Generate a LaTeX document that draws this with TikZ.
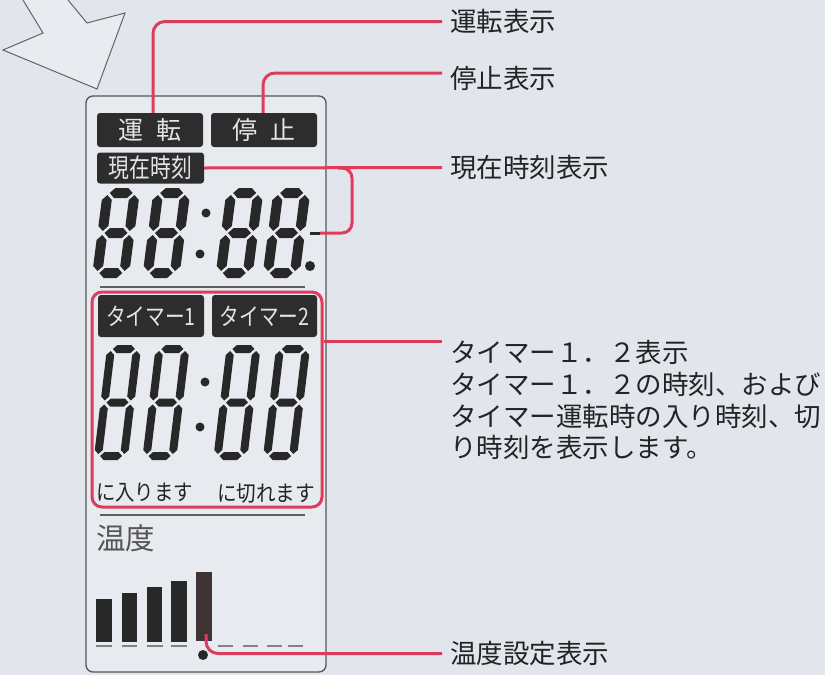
\documentclass[tikz,border=0pt]{standalone}
\usepackage{fontspec}
\setmainfont{Noto Sans CJK JP}
\usepackage{graphicx}
\usetikzlibrary{calc}
\definecolor{bg}{RGB}{226,230,236}
\definecolor{panelc}{RGB}{231,234,239}
\definecolor{panelb}{RGB}{85,85,85}
\definecolor{boxc}{RGB}{45,45,45}
\definecolor{boxtxt}{RGB}{228,228,228}
\definecolor{redc}{RGB}{222,60,92}
\definecolor{txtc}{RGB}{35,35,35}
\definecolor{lcdc}{RGB}{40,40,40}
\definecolor{barfive}{RGB}{62,50,50}
\definecolor{sepc}{RGB}{95,95,95}
\definecolor{dashc}{RGB}{130,130,130}
\definecolor{greytxt}{RGB}{85,85,85}
\definecolor{arrowc}{RGB}{232,235,240}
\definecolor{arrowb}{RGB}{100,100,100}
\tikzset{
  redln/.style={draw=redc, line width=3pt, rounded corners=12pt},
  lbox/.style={fill=boxc, rounded corners=3pt, text=boxtxt, inner sep=0pt},
  lbl/.style={anchor=west, inner xsep=8pt, inner ysep=0pt, text=txtc,
    font=\fontsize{26.5}{26.5}\selectfont, text height=23pt, text depth=3pt},
  lcd/.style={fill=lcdc},
  dotlcd/.style={fill=lcdc},
}
\newcommand{\hseg}[4]{\fill[lcd] (#1,#3) -- ({#1+#4/2},{#3-#4/2}) -- ({#2-#4/2},{#3-#4/2}) -- (#2,#3) -- ({#2-#4/2},{#3+#4/2}) -- ({#1+#4/2},{#3+#4/2}) -- cycle;}
\newcommand{\vseg}[4]{\fill[lcd] (#3,#1) -- ({#3+#4/2},{#1+#4/2}) -- ({#3+#4/2},{#2-#4/2}) -- (#3,#2) -- ({#3-#4/2},{#2-#4/2}) -- ({#3-#4/2},{#1+#4/2}) -- cycle;}
% cx cy w h t slant gap
\newcommand{\lcdeight}[7]{%
  \begin{scope}[shift={(#1,#2)}, xslant=#6]
    \pgfmathsetmacro\dgT{#5}%
    \pgfmathsetmacro\dgXa{-#3/2+#5/2+#7}\pgfmathsetmacro\dgXb{#3/2-#5/2-#7}%
    \pgfmathsetmacro\dgXl{-#3/2+#5/2}\pgfmathsetmacro\dgXr{#3/2-#5/2}%
    \pgfmathsetmacro\dgYt{-#4/2+#5/2}\pgfmathsetmacro\dgYb{#4/2-#5/2}%
    \pgfmathsetmacro\dgYta{-#4/2+#5/2+#7}\pgfmathsetmacro\dgYbb{#4/2-#5/2-#7}%
    \pgfmathsetmacro\dgYm{-#7}\pgfmathsetmacro\dgYp{#7}%
    \hseg{\dgXa}{\dgXb}{\dgYt}{\dgT}
    \hseg{\dgXa}{\dgXb}{0}{\dgT}
    \hseg{\dgXa}{\dgXb}{\dgYb}{\dgT}
    \vseg{\dgYta}{\dgYm}{\dgXl}{\dgT}
    \vseg{\dgYta}{\dgYm}{\dgXr}{\dgT}
    \vseg{\dgYp}{\dgYbb}{\dgXl}{\dgT}
    \vseg{\dgYp}{\dgYbb}{\dgXr}{\dgT}
  \end{scope}}
\begin{document}
\begin{tikzpicture}[x=1pt,y=-1pt]
\fill[bg] (0,0) rectangle (825,675);
\useasboundingbox (0,0) rectangle (825,675);
% big arrow
\fill[arrowc] (23,0) -- (43,33) -- (3,50) -- (97,89) -- (125,13) -- (87,23) -- (68,0) -- cycle;
\draw[arrowb, line width=1pt] (23,0) -- (43,33) -- (3,50) -- (97,89) -- (125,13) -- (87,23) -- (68,0);
% panel
\node[draw=panelb, fill=panelc, line width=1.3pt, rounded corners=7pt, minimum width=240pt, minimum height=576pt, inner sep=0pt] (panel) at (206,384) {};
% label boxes
\node[lbox, minimum width=106pt, minimum height=34pt, font=\fontsize{25}{25}\selectfont] (unten) at (150,130) {運\hspace{0.5em}転};
\node[lbox, minimum width=106pt, minimum height=34pt, font=\fontsize{25}{25}\selectfont] (teishi) at (264,130) {停\hspace{0.5em}止};
\node[lbox, minimum width=107pt, minimum height=31pt, font=\fontsize{26}{26}\selectfont] (genzai) at (150.5,168) {\scalebox{0.8}[1]{現在時刻}};
\node[lbox, minimum width=106pt, minimum height=42pt, font=\fontsize{24}{24}\selectfont] (tm1) at (151,316) {\scalebox{0.82}[1]{タイマー1}};
\node[lbox, minimum width=105pt, minimum height=42pt, font=\fontsize{24}{24}\selectfont] (tm2) at (264.5,316) {\scalebox{0.82}[1]{タイマー2}};
% upper LCD digits
\lcdeight{116}{233}{37}{90}{10}{0.13}{2}
\lcdeight{166.5}{233}{37}{90}{10}{0.13}{2}
\lcdeight{239.5}{233}{37}{90}{10}{0.13}{2}
\lcdeight{286.5}{233}{37}{90}{10}{0.13}{2}
\fill[dotlcd] (206,213) circle (4.5);
\fill[dotlcd] (200,254) circle (4.5);
\fill[dotlcd] (310,266) circle (5);
% separators
\draw[sepc, line width=1.8pt] (100,287) -- (305,287);
\draw[sepc, line width=1.8pt] (100,515) -- (305,515);
% lower LCD digits
\lcdeight{117.5}{402.5}{34}{115}{8}{0.12}{2}
\lcdeight{166}{402.5}{34}{115}{8}{0.12}{2}
\lcdeight{237}{402.5}{34}{115}{8}{0.12}{2}
\lcdeight{286.5}{402.5}{34}{115}{8}{0.12}{2}
\fill[dotlcd] (205,382) circle (4.5);
\fill[dotlcd] (200,427) circle (4.5);
% timer texts
\node[anchor=west, inner sep=0pt, text=txtc, font=\fontsize{22}{22}\selectfont] (iri) at (96,493) {\scalebox{0.88}[1]{に入ります}};
\node[anchor=west, inner sep=0pt, text=txtc, font=\fontsize{22}{22}\selectfont] (kire) at (217,493) {\scalebox{0.89}[1]{に切れます}};
% timer frame
\node[draw=redc, line width=3pt, rounded corners=10pt, minimum width=230pt, minimum height=215pt, inner sep=0pt] (tmr) at (207,399.5) {};
% temperature
\node[anchor=west, inner sep=0pt, text=greytxt, font=\fontsize{29.5}{29.5}\selectfont] (ondo) at (96,538.5) {温度};
\fill[lcdc] (96,599) rectangle (112,642);
\fill[lcdc] (122,593) rectangle (137,642);
\fill[lcdc] (147,587) rectangle (162,642);
\fill[lcdc] (171,581) rectangle (187,642);
\fill[barfive] (196,572) rectangle (212,641);
\foreach \a/\b in {96/112,122/137,147/163,171/187,218/233,243/258,267/282,288/303}
  \draw[dashc, line width=2pt] (\a,646) -- (\b,646);
\fill[lcdc] (203,655) circle (5);
% labels
\node[lbl] (l1) at (442,21.5) {運転表示};
\node[lbl] (l2) at (442,78.5) {停止表示};
\node[lbl] (l3) at (442,167.5) {現在時刻表示};
\node[lbl] (l4) at (442,352) {タイマー１．２表示};
\node[lbl] (l4b) at (442,384) {タイマー１．２の時刻、および};
\node[lbl] (l4c) at (442,416) {タイマー運転時の入り時刻、切};
\node[lbl] (l4d) at (442,447) {り時刻を表示します。};
\node[lbl] (l5) at (442,653.5) {温度設定表示};
% connectors
\coordinate (c1) at ([xshift=3pt]unten.north);
\draw[redln] (c1) |- (l1.west);
\coordinate (c2) at ([xshift=-1pt]teishi.north);
\coordinate (e2) at ([yshift=5.5pt]l2.west);
\draw[redln] (c2) |- (e2);
\draw[redln] (genzai.east) -- (l3.west);
\coordinate (j3) at (338,168);
\coordinate (k3) at (352,233);
\coordinate (d3) at (320,233);
\draw[redln, rounded corners=10pt] (j3) -| (k3) -- (d3);
\draw[lcdc, line width=3pt] (d3) -- ++(-10,0);
\coordinate (e4) at ([yshift=11pt]l4.west);
\draw[redln] (tmr.east |- e4) -- (e4);
\coordinate (b5) at (206,634);
\draw[redln] (b5) |- (l5.west);
\end{tikzpicture}
\end{document}
